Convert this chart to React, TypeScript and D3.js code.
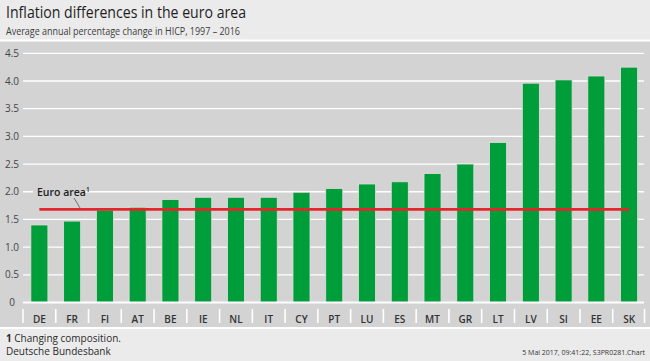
import React from 'react';
import * as d3 from 'd3';

const countries = ['DE', 'FR', 'FI', 'AT', 'BE', 'IE', 'NL', 'IT', 'CY', 'PT', 'LU', 'ES', 'MT', 'GR', 'LT', 'LV', 'SI', 'EE', 'SK'];
const inflation = [1.40, 1.47, 1.67, 1.72, 1.86, 1.90, 1.90, 1.90, 1.99, 2.06, 2.14, 2.18, 2.33, 2.50, 2.89, 3.96, 4.02, 4.09, 4.25];
const euroArea = 1.68;
const yTicks = [0, 0.5, 1.0, 1.5, 2.0, 2.5, 3.0, 3.5, 4.0, 4.5];

const W = 650, H = 361;
const font = '"Open Sans", "Noto Sans", sans-serif';

const App = () => {
  // plot frame
  const left = 23, right = 645.5;
  const top = 53.3, bottom = 302.5;

  const x = d3.scaleBand<string>()
    .domain(countries)
    .range([left, right])
    .paddingInner(0.48)
    .paddingOuter(0.24);

  const y = d3.scaleLinear()
    .domain([0, 4.5])
    .range([bottom, top]);

  const step = x.step();
  const firstCenter = x(countries[0])! + x.bandwidth() / 2;
  const lastCenter = x(countries[countries.length - 1])! + x.bandwidth() / 2;
  const yEuro = y(euroArea);
  const y2 = y(2.0);

  return (
    <div style={{ position: 'absolute', left: 0, top: 0 }}>
      <svg width={W} height={H} style={{ display: 'block', fontFamily: font }}>
        {/* backgrounds */}
        <rect x={0} y={0} width={W} height={H} fill="#ffffff" />
        <rect x={0} y={0} width={W} height={39.5} fill="#ebebeb" />
        <rect x={0} y={41.5} width={W} height={285.5} fill="#d3d3d3" />
        <rect x={0} y={329} width={W} height={32} fill="#ebebeb" />

        {/* title */}
        <text x={6} y={17.5} fontSize={17} fill="#1e1e1e" textLength={240} lengthAdjust="spacingAndGlyphs">
          Inflation differences in the euro area
        </text>
        <text x={6} y={35} fontSize={10.5} fill="#3c3c3c" textLength={234} lengthAdjust="spacingAndGlyphs">
          Average annual percentage change in HICP, 1997 – 2016
        </text>

        {/* grid */}
        {yTicks.map(t => (
          t === 0 ? null : (
            <line key={t} x1={left} x2={644} y1={y(t)} y2={y(t)} stroke="#ffffff" strokeWidth={1.3} />
          )
        ))}
        {/* gap behind euro area label */}
        <rect x={33} y={y2 - 2} width={52} height={4} fill="#d3d3d3" />

        {yTicks.map(t => (
          <text key={'l' + t} x={12} y={y(t) + 3.6} fontSize={10} fill="#444" textAnchor="middle">
            {t === 0 ? '0' : t.toFixed(1)}
          </text>
        ))}

        {/* bars */}
        {countries.map((c, i) => (
          <rect
            key={c}
            x={x(c)}
            y={y(inflation[i])}
            width={x.bandwidth()}
            height={y(0) - y(inflation[i])}
            fill="#009e3a"
            stroke="#e6dcdc"
            strokeWidth={0.8}
          />
        ))}

        {/* zero line */}
        <line x1={left} x2={644} y1={y(0)} y2={y(0)} stroke="#ffffff" strokeWidth={2} />

        {/* category separators and labels */}
        {countries.map((c, i) => (
          <line key={'s' + c} x1={left + i * step} x2={left + i * step} y1={309} y2={323} stroke="#ffffff" strokeWidth={1.6} />
        ))}
        <line x1={left + countries.length * step - 1} x2={left + countries.length * step - 1} y1={309} y2={323} stroke="#ffffff" strokeWidth={1.6} />
        {countries.map(c => (
          <text key={'t' + c} x={x(c)! + x.bandwidth() / 2} y={323} fontSize={10} fontWeight={600} fill="#333" textAnchor="middle">
            {c}
          </text>
        ))}

        {/* euro area line */}
        <line x1={firstCenter} x2={lastCenter} y1={yEuro} y2={yEuro} stroke="#e3262b" strokeWidth={2.8} />
        <line x1={74} y1={198} x2={80} y2={yEuro - 1.5} stroke="#555" strokeWidth={0.8} />
        <text x={37} y={y2 + 3.8} fontSize={10.5} fontWeight={600} fill="#1e1e1e">
          Euro area
          <tspan dy={-4} fontSize={6.5}>1</tspan>
        </text>

        {/* footer */}
        <text x={6} y={342} fontSize={10} fill="#2a2a2a">
          <tspan fontWeight={700}>1</tspan> Changing composition.
        </text>
        <text x={6} y={355} fontSize={10} fill="#2a2a2a">Deutsche Bundesbank</text>
        <text x={645} y={355} fontSize={7} fill="#333" textAnchor="end">5 Mai 2017, 09:41:22, S3PR0281.Chart</text>
      </svg>
    </div>
  );
};

export default App;
